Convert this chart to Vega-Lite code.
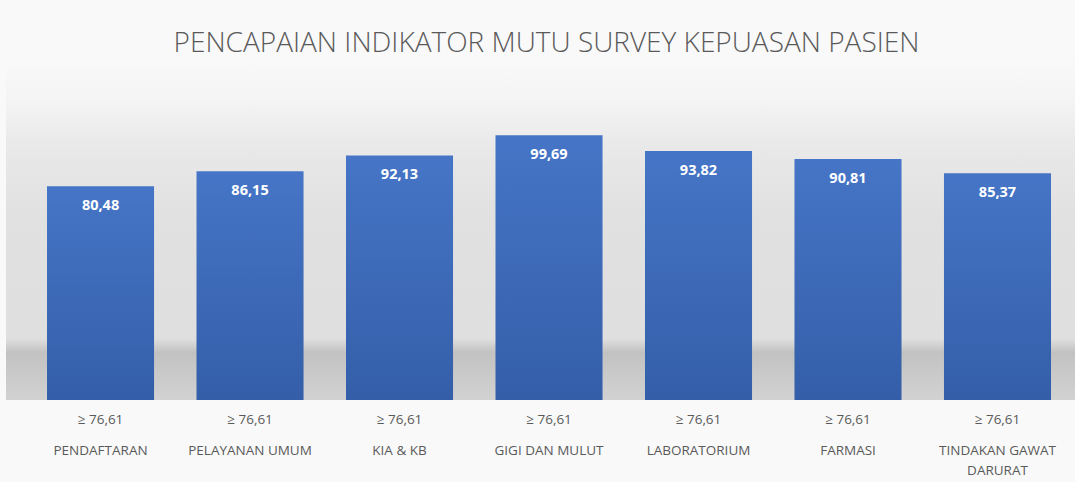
{
  "$schema": "https://vega.github.io/schema/vega-lite/v6.json",
  "width": 1069,
  "height": 340,
  "autosize": "none",
  "padding": {"left": 6, "top": 60, "right": 0, "bottom": 82},
  "background": "#f9f9f9",
  "title": {
    "text": "PENCAPAIAN INDIKATOR MUTU SURVEY KEPUASAN PASIEN",
    "fontSize": 28,
    "font": "Open Sans",
    "fontWeight": 300,
    "color": "#595959",
    "anchor": "middle",
    "offset": 2,
    "dx": 6
  },
  "config": {
    "locale": {"number": {"decimal": ",", "thousands": ".", "grouping": [3], "currency": ["", ""]}},
    "view": {
      "stroke": null,
      "fill": {
        "gradient": "linear", "x1": 0, "y1": 0, "x2": 0, "y2": 1,
        "stops": [
          {"offset": 0, "color": "#f9f9f9"},
          {"offset": 0.12, "color": "#f4f4f4"},
          {"offset": 0.25, "color": "#e9e9e9"},
          {"offset": 0.45, "color": "#e1e1e1"},
          {"offset": 0.82, "color": "#dfdfdf"},
          {"offset": 0.86, "color": "#c2c2c2"},
          {"offset": 1, "color": "#d2d2d2"}
        ]
      }
    },
    "axisX": {
      "title": null, "domain": false, "ticks": false, "labelAngle": 0,
      "labelBaseline": "top", "labelFont": "Open Sans", "labelFontSize": 13.5,
      "labelColor": "#595959", "labelLimit": 200, "orient": "bottom"
    }
  },
  "data": {
    "values": [
      {"kategori": "PENDAFTARAN", "nilai": 80.48},
      {"kategori": "PELAYANAN UMUM", "nilai": 86.15},
      {"kategori": "KIA & KB", "nilai": 92.13},
      {"kategori": "GIGI DAN MULUT", "nilai": 99.69},
      {"kategori": "LABORATORIUM", "nilai": 93.82},
      {"kategori": "FARMASI", "nilai": 90.81},
      {"kategori": "TINDAKAN GAWAT DARURAT", "nilai": 85.37}
    ]
  },
  "resolve": {"axis": {"x": "independent"}},
  "layer": [
    {
      "mark": {
        "type": "bar",
        "color": {
          "gradient": "linear", "x1": 0, "y1": 0, "x2": 0, "y2": 1,
          "stops": [
            {"offset": 0, "color": "#4675c7"},
            {"offset": 1, "color": "#345ea8"}
          ]
        }
      },
      "encoding": {
        "x": {
          "field": "kategori", "type": "nominal", "sort": null,
          "scale": {"paddingInner": 0.284, "paddingOuter": 0.2174, "align": 0.631},
          "axis": {"orient": "bottom", "labelPadding": 12, "labelExpr": "'≥ 76,61'"}
        },
        "y": {
          "field": "nilai", "type": "quantitative",
          "scale": {"domain": [0, 128.06], "nice": false, "zero": true},
          "axis": null
        }
      }
    },
    {
      "mark": {"type": "text", "color": "white", "font": "Open Sans", "fontWeight": "bold", "fontSize": 14.5, "baseline": "middle", "dy": 20},
      "encoding": {
        "x": {
          "field": "kategori", "type": "nominal", "sort": null,
          "axis": {"orient": "bottom", "labelPadding": 43, "labelLineHeight": 20,
            "labelExpr": "datum.value == 'TINDAKAN GAWAT DARURAT' ? ['TINDAKAN GAWAT', 'DARURAT'] : datum.value"}
        },
        "y": {"field": "nilai", "type": "quantitative"},
        "text": {"field": "nilai", "type": "quantitative", "format": ".2f"}
      }
    }
  ]
}
